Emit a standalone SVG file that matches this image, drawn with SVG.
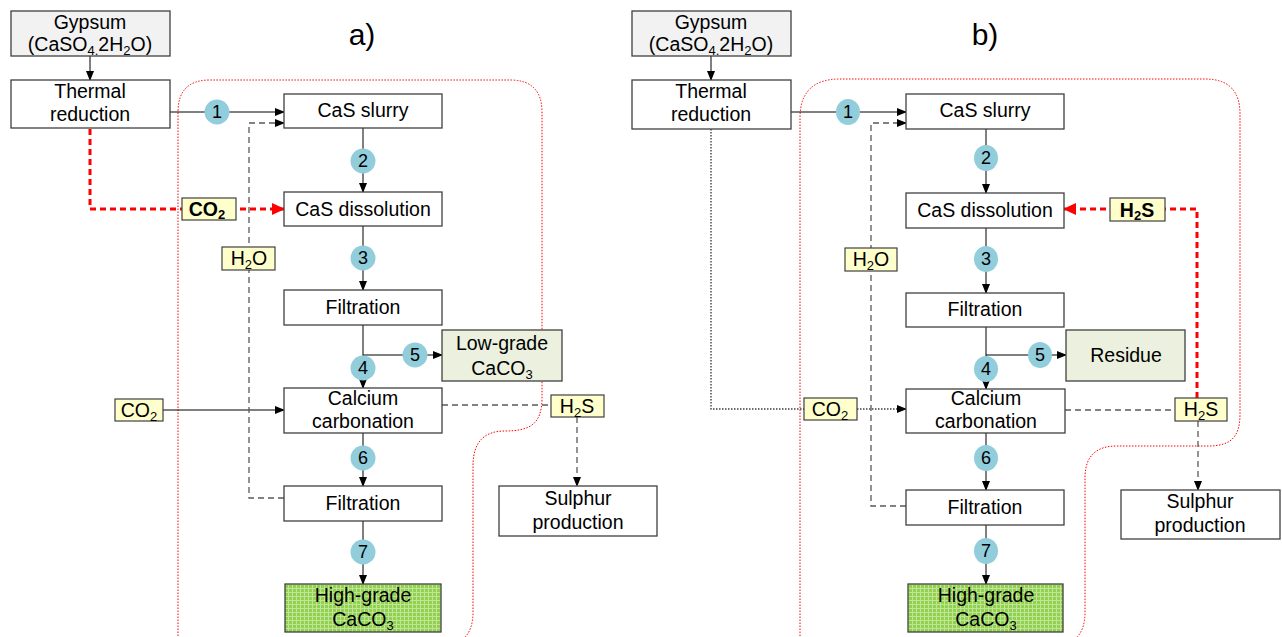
<svg xmlns="http://www.w3.org/2000/svg" width="1282" height="637" viewBox="0 0 1282 637">
<style>
text{font-family:"Liberation Sans",Arial,sans-serif;font-size:19.5px;fill:#000;text-anchor:middle}
.box{fill:#fff;stroke:#404040;stroke-width:1.3}
.gyp{fill:#f2f2f2;stroke:#404040;stroke-width:1.3}
.lg{fill:#ebf1de;stroke:#404040;stroke-width:1.3}
.hg{fill:url(#grid);stroke:#404040;stroke-width:1.3}
.lbl{fill:#ffffcc;stroke:#404040;stroke-width:1.2}
.num{fill:#92cddc}
.nt{font-size:18px}
.ln{fill:none;stroke:#000;stroke-width:1}
.arr{marker-end:url(#ah)}
.dash{fill:none;stroke:#595959;stroke-width:1.3;stroke-dasharray:6,4}
.dot{fill:none;stroke:#404040;stroke-width:1.4;stroke-dasharray:1.5,1.5}
.red{fill:none;stroke:#ff0000;stroke-width:3;stroke-dasharray:6,4;marker-end:url(#rh)}
.bound{fill:none;stroke:#ff0000;stroke-width:1;stroke-dasharray:1.5,1.5}
.title{font-size:30px}
.b{font-weight:bold}
.s{font-size:13px}
</style>
<defs>
<marker id="ah" markerWidth="10" markerHeight="8" refX="9" refY="4" orient="auto" markerUnits="userSpaceOnUse"><path d="M0,0 L10,4 L0,8 Z" fill="#000"/></marker>
<marker id="rh" markerWidth="13" markerHeight="12" refX="12" refY="6" orient="auto" markerUnits="userSpaceOnUse"><path d="M0,0 L13,6 L0,12 Z" fill="#ff0000"/></marker>
<pattern id="grid" width="4" height="4" patternUnits="userSpaceOnUse"><rect width="4" height="4" fill="#92d050"/><path d="M0,0.5 H4 M0.5,0 V4" stroke="#bfe596" stroke-width="1"/></pattern>
</defs>

<g id="boundaries">
<path class="bound" d="M178,648 L178,112 Q178,80 210,80 L510,80 Q542,80 542,112 L542,398 C542,424 530,431 505,431 C485,431 473,441 473,466 L473,612 Q473,646 440,646"/>
<path class="bound" d="M800,648 L800,118 Q800,79 840,79 L1205,79 Q1240,79 1240,114 L1240,414 C1240,438 1230,446 1208,446 L1117,446 C1096,446 1085,456 1085,478 L1085,612 Q1085,646 1052,646"/>
</g>

<g id="titles">
<text class="title" x="362" y="45">a)</text>
<text class="title" x="985" y="45">b)</text>
</g>

<g id="connectors">
<!-- panel a -->
<path class="ln arr" d="M90,56 V80"/>
<path class="ln arr" d="M170,112 H284"/>
<path class="ln arr" d="M363,128 V192"/>
<path class="ln arr" d="M363,226 V290"/>
<path class="ln arr" d="M363,325 V388"/>
<path class="ln arr" d="M363,355 H442"/>
<path class="ln arr" d="M363,433 V486"/>
<path class="ln arr" d="M363,521 V584"/>
<path class="ln arr" d="M163,410 H284"/>
<path class="dash arr" d="M284,498 H249 V123 H284"/>
<path class="dash" d="M442,405 H551"/>
<path class="dash arr" d="M577,417 V486"/>
<path class="red" d="M90,129 V209 H284"/>
<!-- panel b -->
<path class="ln arr" d="M711,56 V80"/>
<path class="ln arr" d="M791,112 H906"/>
<path class="ln arr" d="M986,129 V193"/>
<path class="ln arr" d="M986,228 V293"/>
<path class="ln arr" d="M986,327 V389"/>
<path class="ln arr" d="M986,355 H1066"/>
<path class="ln arr" d="M986,433 V490"/>
<path class="ln arr" d="M986,525 V584"/>
<path class="dot arr" d="M711,129 V409 H906"/>
<path class="dash arr" d="M906,506 H871 V123 H906"/>
<path class="dash" d="M1065,410 H1175"/>
<path class="dash arr" d="M1198,421 V490"/>
<path class="red" d="M1197,398 V209 H1064"/>
</g>

<g id="a-gypsum"><rect class="gyp" x="11" y="11" width="159" height="45"/><text x="90" y="29">Gypsum</text><text x="90" y="51">(CaSO<tspan class="s" dy="4">4.</tspan><tspan dy="-4">2H</tspan><tspan class="s" dy="4">2</tspan><tspan dy="-4">O)</tspan></text></g>
<g id="a-thermal"><rect class="box" x="11" y="80" width="159" height="48"/><text x="90" y="98">Thermal</text><text x="90" y="121">reduction</text></g>
<g id="a-slurry"><rect class="box" x="284" y="94" width="158" height="34"/><text x="363" y="117">CaS slurry</text></g>
<g id="a-dissolution"><rect class="box" x="284" y="192" width="158" height="34"/><text x="363" y="216">CaS dissolution</text></g>
<g id="a-filtration1"><rect class="box" x="284" y="290" width="158" height="35"/><text x="363" y="314">Filtration</text></g>
<g id="a-lowgrade"><rect class="lg" x="442" y="330" width="120" height="51"/><text x="502" y="350">Low-grade</text><text x="502" y="375">CaCO<tspan class="s" dy="4">3</tspan></text></g>
<g id="a-carbonation"><rect class="box" x="284" y="388" width="158" height="45"/><text x="363" y="405">Calcium</text><text x="363" y="428">carbonation</text></g>
<g id="a-filtration2"><rect class="box" x="284" y="486" width="158" height="35"/><text x="363" y="510">Filtration</text></g>
<g id="a-highgrade"><rect class="hg" x="285" y="584" width="156" height="48"/><text x="363" y="602">High-grade</text><text x="363" y="626">CaCO<tspan class="s" dy="4">3</tspan></text></g>
<g id="a-sulphur"><rect class="box" x="499" y="486" width="158" height="50"/><text x="578" y="505">Sulphur</text><text x="578" y="529">production</text></g>
<g id="a-co2-red"><rect class="lbl" x="182" y="198" width="54" height="22"/><text class="b" x="207" y="216">CO<tspan class="s" dy="3">2</tspan></text></g>
<g id="a-h2o"><rect class="lbl" x="222" y="247" width="53" height="23"/><text x="249" y="265">H<tspan class="s" dy="4">2</tspan><tspan dy="-4">O</tspan></text></g>
<g id="a-co2"><rect class="lbl" x="115" y="399" width="48" height="22"/><text x="139" y="417">CO<tspan class="s" dy="4">2</tspan></text></g>
<g id="a-h2s"><rect class="lbl" x="551" y="395" width="53" height="22"/><text x="577" y="413">H<tspan class="s" dy="4">2</tspan><tspan dy="-4">S</tspan></text></g>
<g id="a-steps">
<circle class="num" cx="217" cy="112" r="12.5"/><text class="nt" x="217" y="118">1</text>
<circle class="num" cx="363" cy="161" r="12.5"/><text class="nt" x="363" y="167">2</text>
<circle class="num" cx="363" cy="258" r="12.5"/><text class="nt" x="363" y="264">3</text>
<circle class="num" cx="363" cy="368" r="12.5"/><text class="nt" x="363" y="374">4</text>
<circle class="num" cx="415" cy="355" r="12.5"/><text class="nt" x="415" y="361">5</text>
<circle class="num" cx="363" cy="458" r="12.5"/><text class="nt" x="363" y="464">6</text>
<circle class="num" cx="363" cy="552" r="12.5"/><text class="nt" x="363" y="558">7</text>
</g>

<g id="b-gypsum"><rect class="gyp" x="632" y="11" width="159" height="45"/><text x="711" y="29">Gypsum</text><text x="711" y="51">(CaSO<tspan class="s" dy="4">4.</tspan><tspan dy="-4">2H</tspan><tspan class="s" dy="4">2</tspan><tspan dy="-4">O)</tspan></text></g>
<g id="b-thermal"><rect class="box" x="632" y="80" width="159" height="49"/><text x="711" y="98">Thermal</text><text x="711" y="121">reduction</text></g>
<g id="b-slurry"><rect class="box" x="906" y="94" width="158" height="35"/><text x="985" y="117">CaS slurry</text></g>
<g id="b-dissolution"><rect class="box" x="906" y="193" width="158" height="35"/><text x="985" y="217">CaS dissolution</text></g>
<g id="b-filtration1"><rect class="box" x="906" y="293" width="158" height="34"/><text x="985" y="316">Filtration</text></g>
<g id="b-residue"><rect class="lg" x="1066" y="330" width="119" height="51"/><text x="1126" y="362">Residue</text></g>
<g id="b-carbonation"><rect class="box" x="906" y="389" width="159" height="44"/><text x="986" y="405">Calcium</text><text x="986" y="428">carbonation</text></g>
<g id="b-filtration2"><rect class="box" x="906" y="490" width="158" height="35"/><text x="985" y="514">Filtration</text></g>
<g id="b-highgrade"><rect class="hg" x="908" y="584" width="155" height="48"/><text x="986" y="602">High-grade</text><text x="986" y="626">CaCO<tspan class="s" dy="4">3</tspan></text></g>
<g id="b-sulphur"><rect class="box" x="1121" y="490" width="159" height="49"/><text x="1200" y="508">Sulphur</text><text x="1200" y="532">production</text></g>
<g id="b-h2s-red"><rect class="lbl" x="1110" y="198" width="55" height="23"/><text class="b" x="1137" y="217">H<tspan class="s" dy="3">2</tspan><tspan dy="-3">S</tspan></text></g>
<g id="b-h2o"><rect class="lbl" x="845" y="248" width="52" height="23"/><text x="871" y="266">H<tspan class="s" dy="4">2</tspan><tspan dy="-4">O</tspan></text></g>
<g id="b-co2"><rect class="lbl" x="804" y="398" width="53" height="22"/><text x="830" y="416">CO<tspan class="s" dy="4">2</tspan></text></g>
<g id="b-h2s"><rect class="lbl" x="1175" y="398" width="52" height="23"/><text x="1201" y="416">H<tspan class="s" dy="4">2</tspan><tspan dy="-4">S</tspan></text></g>
<g id="b-steps">
<ellipse class="num" cx="848" cy="112" rx="12" ry="13"/><text class="nt" x="848" y="118">1</text>
<ellipse class="num" cx="986" cy="158" rx="12" ry="13"/><text class="nt" x="986" y="164">2</text>
<ellipse class="num" cx="986" cy="259" rx="12" ry="13"/><text class="nt" x="986" y="265">3</text>
<ellipse class="num" cx="986" cy="369" rx="12" ry="13"/><text class="nt" x="986" y="375">4</text>
<ellipse class="num" cx="1040" cy="355" rx="12" ry="13"/><text class="nt" x="1040" y="361">5</text>
<ellipse class="num" cx="986" cy="458" rx="12" ry="13"/><text class="nt" x="986" y="464">6</text>
<ellipse class="num" cx="986" cy="551" rx="12" ry="13"/><text class="nt" x="986" y="557">7</text>
</g>
</svg>
